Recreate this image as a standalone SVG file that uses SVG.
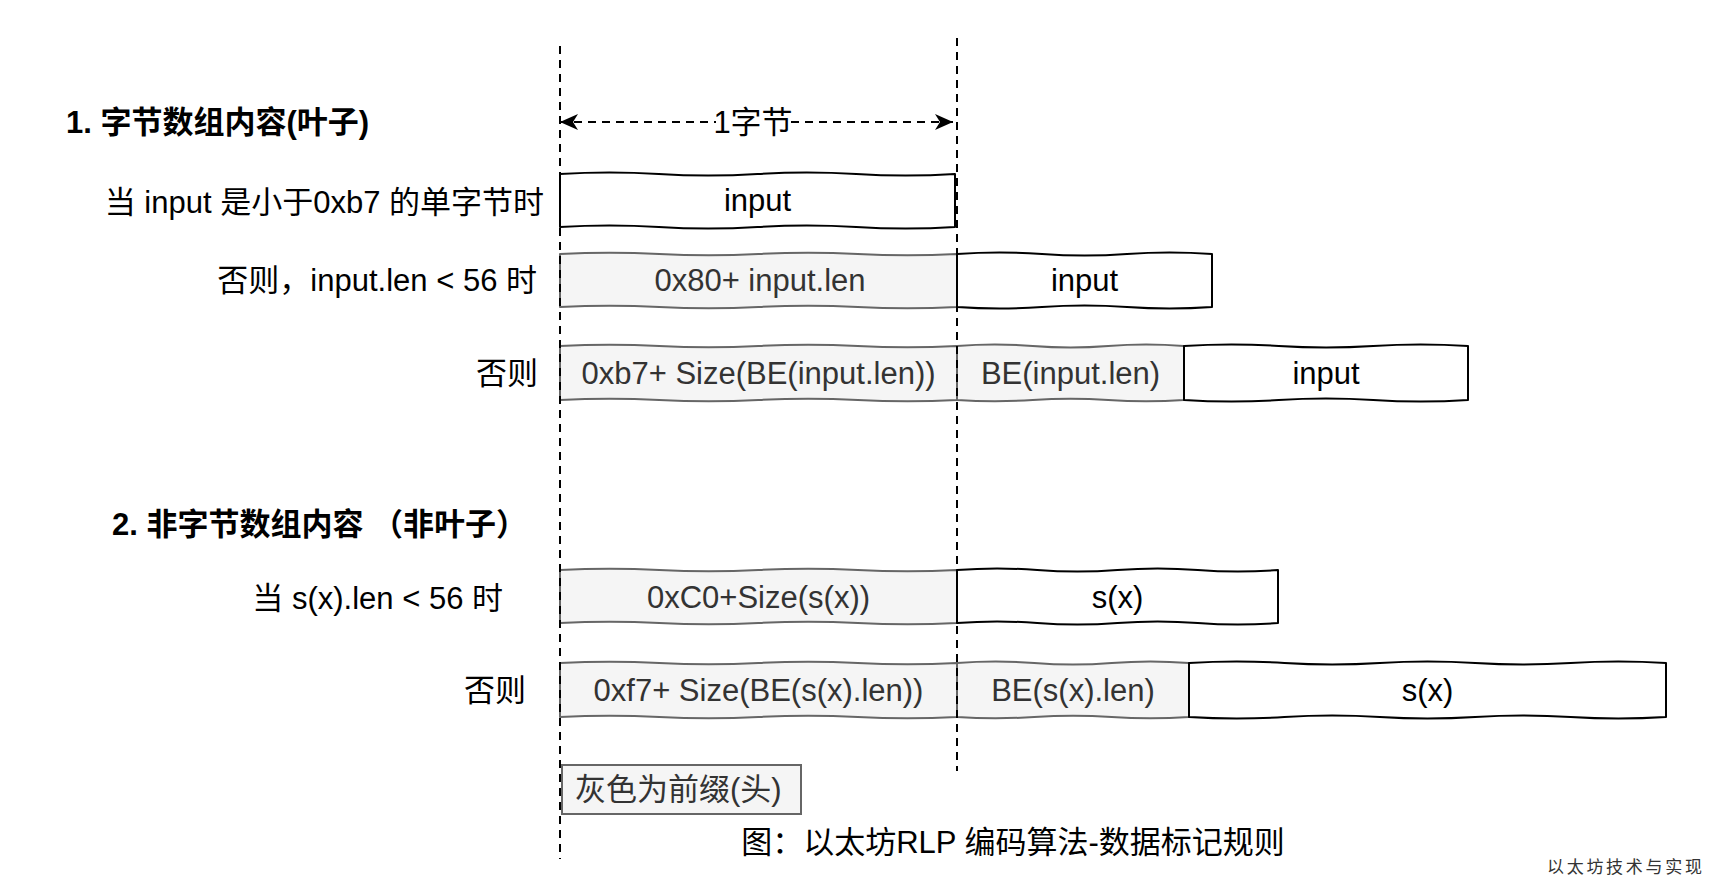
<svg xmlns="http://www.w3.org/2000/svg" width="1716" height="886" viewBox="0 0 1716 886">
<defs>
<marker id="arr" viewBox="0 0 18 16" refX="18" refY="8" markerWidth="18" markerHeight="16" markerUnits="userSpaceOnUse" orient="auto-start-reverse">
<path d="M0,0 L18,8 L0,16 L5,8 Z" fill="#000"/>
</marker>
<style>
text{font-family:"Liberation Sans","Noto Sans CJK SC",sans-serif;font-size:31px;dominant-baseline:central}
.t{font-weight:bold}
.lbl{text-anchor:end;fill:#000}
.c{text-anchor:middle}
.gray path{fill:#f5f5f5;stroke:#666;stroke-width:2;stroke-linejoin:round}
.gray text{fill:#333}
.white path{fill:#fff;stroke:#000;stroke-width:2;stroke-linejoin:round}
.white text{fill:#000}
.dash{fill:none;stroke:#000;stroke-width:2;stroke-dasharray:8 6}
.wm{font-family:"Liberation Serif","Noto Sans CJK SC",serif;font-size:17px;letter-spacing:2.7px;fill:#333}
</style>
</defs>
<rect width="1716" height="886" fill="#fff"/>

<g id="title1"><text class="t" x="66" y="122">1. 字节数组内容(叶子)</text></g>
<g id="title2"><text class="t" x="112" y="524">2. 非字节数组内容 （非叶子）</text></g>

<g id="label1"><text class="lbl" x="544" y="202">当 input 是小于0xb7 的单字节时</text></g>
<g id="label2"><text class="lbl" x="537" y="280">否则，input.len &lt; 56 时</text></g>
<g id="label3"><text class="lbl" x="538" y="373">否则</text></g>
<g id="label4"><text class="lbl" x="503" y="598">当 s(x).len &lt; 56 时</text></g>
<g id="label5"><text class="lbl" x="526" y="690">否则</text></g>

<g id="r1-input" class="white">
<path d="M560,174 Q609.4,171 658.75,174 T757.5,174 T856.25,174 T955,174 L955,227 Q905.6,230 856.25,227 T757.5,227 T658.75,227 T560,227 Z"/>
<text class="c" x="757.5" y="200.5">input</text>
</g>

<g id="r2-prefix" class="gray">
<path d="M560,254 Q609.6,251.5 659.25,254 T758.5,254 T857.75,254 T957,254 L957,307 Q907.4,309.5 857.75,307 T758.5,307 T659.25,307 T560,307 Z"/>
<text class="c" x="760" y="280.5">0x80+ input.len</text>
</g>
<g id="r2-input" class="white">
<path d="M957,254 Q999.5,251 1042,254 T1127,254 T1212,254 L1212,307 Q1169.5,310 1127,307 T1042,307 T957,307 Z"/>
<text class="c" x="1084.5" y="280.5">input</text>
</g>

<g id="r3-prefix" class="gray">
<path d="M560,346 Q609.6,343.5 659.25,346 T758.5,346 T857.75,346 T957,346 L957,400 Q907.4,402.5 857.75,400 T758.5,400 T659.25,400 T560,400 Z"/>
<text class="c" x="758.5" y="373">0xb7+ Size(BE(input.len))</text>
</g>
<g id="r3-be" class="gray">
<path d="M957,346 Q994.8,343 1032.7,346 T1108.3,346 T1184,346 L1184,400 Q1146.2,402.5 1108.3,400 T1032.7,400 T957,400 Z"/>
<text class="c" x="1070.5" y="373">BE(input.len)</text>
</g>
<g id="r3-input" class="white">
<path d="M1184,346 Q1231.3,343 1278.7,346 T1373.3,346 T1468,346 L1468,400 Q1420.7,403 1373.3,400 T1278.7,400 T1184,400 Z"/>
<text class="c" x="1326" y="373">input</text>
</g>

<g id="r4-prefix" class="gray">
<path d="M560,570 Q609.6,567.5 659.25,570 T758.5,570 T857.75,570 T957,570 L957,623 Q907.4,625.5 857.75,623 T758.5,623 T659.25,623 T560,623 Z"/>
<text class="c" x="758.5" y="597">0xC0+Size(s(x))</text>
</g>
<g id="r4-sx" class="white">
<path d="M957,570 Q997.1,567 1037.25,570 T1117.5,570 T1197.75,570 T1278,570 L1278,623 Q1237.9,626 1197.75,623 T1117.5,623 T1037.25,623 T957,623 Z"/>
<text class="c" x="1117.5" y="597">s(x)</text>
</g>

<g id="r5-prefix" class="gray">
<path d="M560,663 Q609.6,660.5 659.25,663 T758.5,663 T857.75,663 T957,663 L957,717 Q907.4,719.5 857.75,717 T758.5,717 T659.25,717 T560,717 Z"/>
<text class="c" x="758.5" y="690">0xf7+ Size(BE(s(x).len))</text>
</g>
<g id="r5-be" class="gray">
<path d="M957,663 Q995.7,660 1034.3,663 T1111.7,663 T1189,663 L1189,717 Q1150.3,719.5 1111.7,717 T1034.3,717 T957,717 Z"/>
<text class="c" x="1073" y="690">BE(s(x).len)</text>
</g>
<g id="r5-sx" class="white">
<path d="M1189,663 Q1236.7,660 1284.4,663 T1379.8,663 T1475.2,663 T1570.6,663 T1666,663 L1666,717 Q1618.3,720 1570.6,717 T1475.2,717 T1379.8,717 T1284.4,717 T1189,717 Z"/>
<text class="c" x="1427.5" y="690">s(x)</text>
</g>

<g id="legend">
<rect x="562" y="765" width="239" height="49" fill="#f5f5f5" stroke="#666" stroke-width="2"/>
<text x="575" y="789.5" fill="#333">灰色为前缀(头)</text>
</g>

<g id="connectors">
<path class="dash" d="M560,46 V859"/>
<path class="dash" d="M957,38 V771"/>
<path class="dash" d="M560,122 H716" marker-start="url(#arr)"/>
<path class="dash" d="M791,122 H953" marker-end="url(#arr)"/>
</g>

<g id="byte-label"><text class="c" x="753" y="122">1字节</text></g>

<g id="caption"><text class="c" x="1013" y="842">图：以太坊RLP 编码算法-数据标记规则</text></g>
<g id="watermark"><text class="wm" x="1547" y="867">以太坊技术与实现</text></g>
</svg>
